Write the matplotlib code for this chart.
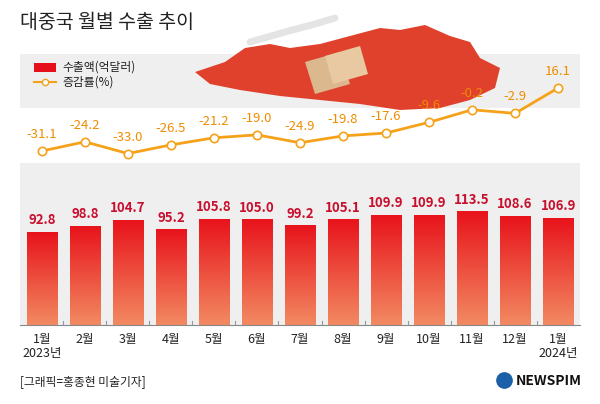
import numpy as np
import matplotlib.pyplot as plt
from matplotlib.colors import LinearSegmentedColormap
from matplotlib import font_manager

names = {f.name for f in font_manager.fontManager.ttflist}
cjk = [n for n in ['Noto Sans CJK KR', 'Noto Sans CJK JP', 'Noto Sans CJK SC', 'Noto Sans CJK TC'] if n in names]
plt.rcParams['font.family'] = 'sans-serif'
plt.rcParams['font.sans-serif'] = cjk + ['DejaVu Sans']

months = ['1월\n2023년', '2월', '3월', '4월', '5월', '6월', '7월', '8월',
          '9월', '10월', '11월', '12월', '1월\n2024년']
exports = [92.8, 98.8, 104.7, 95.2, 105.8, 105.0, 99.2, 105.1, 109.9, 109.9, 113.5, 108.6, 106.9]
growth = [-31.1, -24.2, -33.0, -26.5, -21.2, -19.0, -24.9, -19.8, -17.6, -9.6, -0.2, -2.9, 16.1]

W, H = 600, 404
fig = plt.figure(figsize=(6, 4.04), dpi=100)
fig.patch.set_facecolor('white')

def fy(px):
    return 1 - px / H

# background bands
bg = fig.add_axes([0, 0, 1, 1], zorder=0)
bg.set_xlim(0, W); bg.set_ylim(H, 0); bg.axis('off')
bg.add_patch(plt.Rectangle((20, 54), 560, 54, color='#efefef', lw=0))
bg.add_patch(plt.Rectangle((20, 163), 560, 162, color='#efefef', lw=0))

# rough map illustration
map_x = [195, 225, 245, 270, 290, 320, 350, 380, 400, 425, 450, 470, 480, 500, 495, 470, 440, 400, 360, 320, 280, 240, 210]
map_y = [72, 62, 48, 44, 48, 44, 36, 28, 30, 25, 36, 42, 58, 68, 88, 100, 108, 110, 104, 100, 96, 90, 84]
bg.fill(map_x, map_y, color='#e0412c', lw=0)
bg.fill([305, 340, 350, 315], [62, 52, 84, 94], color='#dcb88e', lw=0)
bg.fill([325, 360, 368, 333], [56, 46, 74, 84], color='#e8c9a2', lw=0)
bg.plot([250, 285, 315, 335], [42, 32, 24, 18], color='#e4e4e4', lw=5, solid_capstyle='round')

x = np.arange(len(months))
left, right = 20 / W, 580 / W
bottom_px, top_px = 325, 60
ax = fig.add_axes([left, fy(bottom_px), right - left, (bottom_px - top_px) / H], zorder=2)
ax.set_xlim(-0.51, 12.51)
ax.set_ylim(0, bottom_px - top_px)
ax.patch.set_alpha(0)

cmap = LinearSegmentedColormap.from_list('bar', ['#f28a62', '#e8131b'])
grad = np.linspace(0, 1, 256).reshape(-1, 1)
bw = 0.7
for xi, v in zip(x, exports):
    ax.imshow(grad, extent=[xi - bw / 2, xi + bw / 2, 0, v], origin='lower',
              cmap=cmap, aspect='auto', zorder=2)
    ax.text(xi, v + 5, f'{v:.1f}', ha='center', va='bottom', fontsize=9.5,
            fontweight='bold', color='#c8102e', zorder=4)

for s in ['top', 'right', 'left']:
    ax.spines[s].set_visible(False)
ax.spines['bottom'].set_color('#888888')
ax.set_yticks([])
ax.set_xticks(x)
ax.set_xticklabels(months, fontsize=9, color='#222222', linespacing=1.1)
ax.tick_params(axis='x', length=0, pad=6)
for xb in np.arange(0.5, 12, 1):
    ax.plot([xb, xb], [0, 4], color='#999999', lw=0.8, zorder=3)

ax2 = ax.twinx()
ax2.set_ylim((109.5 - bottom_px) / 1.335, (109.5 - top_px) / 1.335)
ax2.axis('off')
ax2.plot(x, growth, color='#f5a21b', lw=2, marker='o', ms=6,
         mfc='white', mec='#f5a21b', mew=1.2, zorder=3)
for xi, v in zip(x, growth):
    ax2.text(xi, v + 7.5, f'{v:.1f}', ha='center', va='bottom', fontsize=9.5,
             color='#f08c00', zorder=4)

# legend
bg.add_patch(plt.Rectangle((34, 63), 22, 9, color='#e60f1c', lw=0))
bg.text(62, 67.5, '수출액(억달러)', fontsize=8.5, va='center', color='#222222')
bg.plot([34, 56], [82, 82], color='#f5a21b', lw=1.5)
bg.plot([45], [82], marker='o', ms=4.5, mfc='white', mec='#f5a21b')
bg.text(62, 82, '증감률(%)', fontsize=8.5, va='center', color='#222222')

bg.text(20, 22, '대중국 월별 수출 추이', fontsize=14, va='center', color='#222222')
bg.text(20, 382, '[그래픽=홍종현 미술기자]', fontsize=8.5, va='center', color='#222222')
bg.text(582, 381, 'NEWSPIM', fontsize=10, fontweight='bold', va='center', ha='right',
        color='#111111', zorder=5)
bg.plot([504], [380], marker='o', ms=11, color='#1b5fa8')

fig.savefig('out.png', dpi=100)
